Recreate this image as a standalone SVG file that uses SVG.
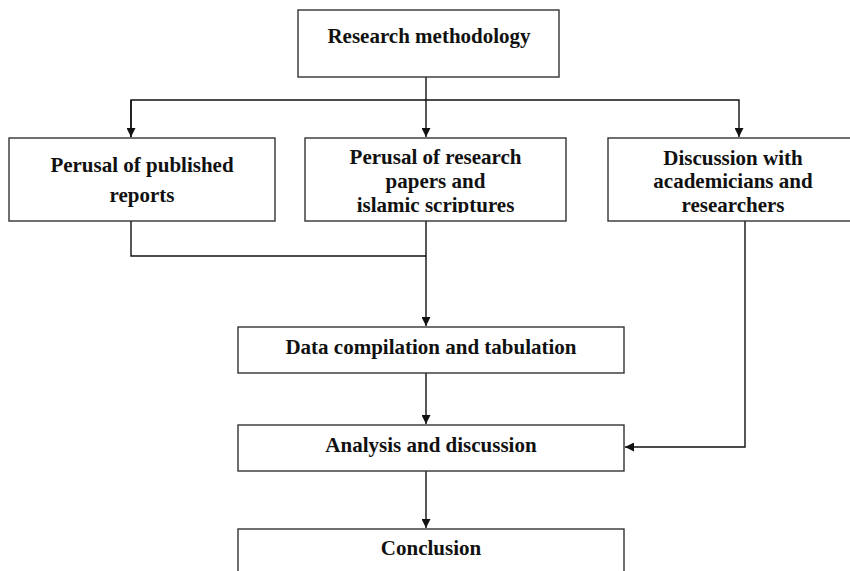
<svg xmlns="http://www.w3.org/2000/svg" width="850" height="571" viewBox="0 0 850 571">
<style>
.box{fill:#fff;stroke:#333;stroke-width:1.4}
.t{font-family:"Liberation Serif","Times New Roman",serif;font-weight:bold;font-size:21px;fill:#111;text-anchor:middle}
.c{fill:none;stroke:#111;stroke-width:1.4}
</style>
<defs>
<marker id="ah" markerWidth="9" markerHeight="9" refX="9" refY="4.5" orient="auto" markerUnits="userSpaceOnUse">
<path d="M0,0 L9,4.5 L0,9 Z" fill="#111"/>
</marker>
<clipPath id="clip2"><rect x="305" y="138" width="262" height="74.8"/></clipPath>
</defs>
<rect width="850" height="571" fill="#fff"/>
<g id="connectors">
<line class="c" x1="426" y1="77" x2="426" y2="137" marker-end="url(#ah)"/>
<polyline class="c" points="131,137 131,100 739,100 739,137" marker-end="url(#ah)"/>
<line class="c" x1="131" y1="100" x2="131" y2="137" marker-end="url(#ah)"/>
<polyline class="c" points="131,221 131,256 426,256"/>
<line class="c" x1="426" y1="221" x2="426" y2="326" marker-end="url(#ah)"/>
<line class="c" x1="426" y1="373" x2="426" y2="424" marker-end="url(#ah)"/>
<line class="c" x1="426" y1="471" x2="426" y2="528" marker-end="url(#ah)"/>
<polyline class="c" points="745,221 745,447 625,447" marker-end="url(#ah)"/>
</g>
<g id="n-research">
<rect class="box" x="298" y="10" width="261" height="67"/>
<text class="t" x="429" y="43">Research methodology</text>
</g>
<g id="n-published">
<rect class="box" x="9" y="138" width="266" height="83"/>
<text class="t" x="142" y="171.5">Perusal of published</text>
<text class="t" x="142" y="201.5">reports</text>
</g>
<g id="n-papers">
<rect class="box" x="305" y="138" width="261" height="83"/>
<g clip-path="url(#clip2)">
<text class="t" x="435.5" y="164">Perusal of research</text>
<text class="t" x="435.5" y="188">papers and</text>
<text class="t" x="435.5" y="211.5">islamic scriptures</text>
</g>
</g>
<g id="n-discussion">
<rect class="box" x="608" y="138" width="252" height="83"/>
<text class="t" x="733" y="165">Discussion with</text>
<text class="t" x="733" y="188">academicians and</text>
<text class="t" x="733" y="211.5">researchers</text>
</g>
<g id="n-data">
<rect class="box" x="238" y="327" width="386" height="46"/>
<text class="t" x="431" y="354">Data compilation and tabulation</text>
</g>
<g id="n-analysis">
<rect class="box" x="238" y="425" width="386" height="46"/>
<text class="t" x="431" y="452">Analysis and discussion</text>
</g>
<g id="n-conclusion">
<rect class="box" x="238" y="529" width="386" height="60"/>
<text class="t" x="431" y="555">Conclusion</text>
</g>
</svg>
